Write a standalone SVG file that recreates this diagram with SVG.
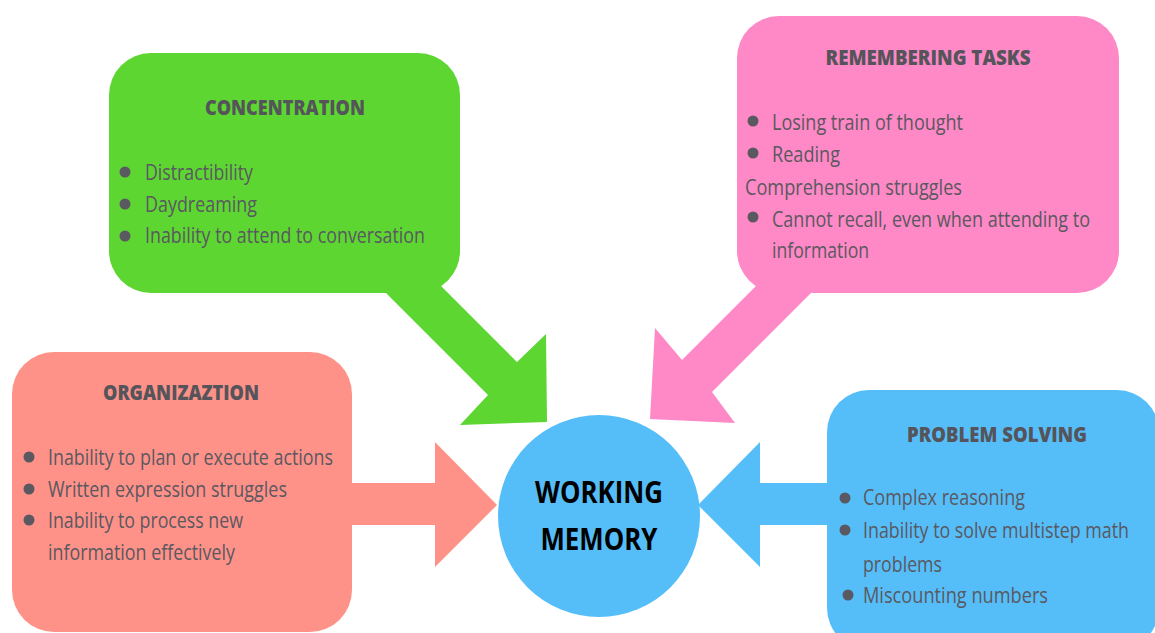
<svg xmlns="http://www.w3.org/2000/svg" width="1155" height="633" viewBox="0 0 1155 633">
<style>
.t{font-family:"Open Sans","Liberation Sans",sans-serif;font-size:21px;fill:#5a5860}
.h{font-family:"Open Sans","Liberation Sans",sans-serif;font-size:21px;font-weight:800;fill:#55545a;text-anchor:middle}
.c{font-family:"Open Sans","Liberation Sans",sans-serif;font-size:31px;font-weight:bold;fill:#000;text-anchor:middle}
.d{fill:#5a5860}
.g{fill:#5dd632}.p{fill:#ff88c6}.s{fill:#ff9288}.b{fill:#55bef9}
</style>
<rect width="1155" height="633" fill="#fff"/>
<g id="connectors">
<polygon class="g" points="358,265 420,265 517,362 546,334 547,422 460,425 488,395"/>
<polygon class="p" points="765,277 827,277 712,392 735,423 650,419 655,328 682,360"/>
<polygon class="s" points="340,483 435,483 435,442 497,505 435,567 435,525 340,525"/>
<polygon class="b" points="840,483 760,483 760,442 698,505 760,567 760,525 840,525"/>
</g>
<g id="concentration">
<rect class="g" x="109" y="53" width="351" height="240" rx="42"/>
<text class="h" x="285" y="115" textLength="160" lengthAdjust="spacingAndGlyphs">CONCENTRATION</text>
<circle class="d" cx="125" cy="172" r="5.5"/><circle class="d" cx="125" cy="204" r="5.5"/><circle class="d" cx="125" cy="236" r="5.5"/>
<text class="t" x="145" y="180" textLength="108" lengthAdjust="spacingAndGlyphs">Distractibility</text>
<text class="t" x="145" y="212" textLength="112" lengthAdjust="spacingAndGlyphs">Daydreaming</text>
<text class="t" x="145" y="243" textLength="280" lengthAdjust="spacingAndGlyphs">Inability to attend to conversation</text>
</g>
<g id="remembering">
<rect class="p" x="737" y="16" width="382" height="277" rx="42"/>
<text class="h" x="928" y="65" textLength="205" lengthAdjust="spacingAndGlyphs">REMEMBERING TASKS</text>
<circle class="d" cx="753" cy="121" r="5.5"/><circle class="d" cx="753" cy="153" r="5.5"/><circle class="d" cx="753" cy="217" r="5.5"/>
<text class="t" x="772" y="130" textLength="191" lengthAdjust="spacingAndGlyphs">Losing train of thought</text>
<text class="t" x="772" y="162" textLength="68" lengthAdjust="spacingAndGlyphs">Reading</text>
<text class="t" x="745" y="195" textLength="217" lengthAdjust="spacingAndGlyphs">Comprehension struggles</text>
<text class="t" x="772" y="227" textLength="318" lengthAdjust="spacingAndGlyphs">Cannot recall, even when attending to</text>
<text class="t" x="772" y="258" textLength="97" lengthAdjust="spacingAndGlyphs">information</text>
</g>
<g id="organization">
<rect class="s" x="12" y="352" width="340" height="280" rx="42"/>
<text class="h" x="181" y="400" textLength="156" lengthAdjust="spacingAndGlyphs">ORGANIZAZTION</text>
<circle class="d" cx="29" cy="457" r="5.5"/><circle class="d" cx="29" cy="489" r="5.5"/><circle class="d" cx="29" cy="520" r="5.5"/>
<text class="t" x="48" y="465" textLength="285" lengthAdjust="spacingAndGlyphs">Inability to plan or execute actions</text>
<text class="t" x="48" y="497" textLength="239" lengthAdjust="spacingAndGlyphs">Written expression struggles</text>
<text class="t" x="48" y="528" textLength="195" lengthAdjust="spacingAndGlyphs">Inability to process new</text>
<text class="t" x="48" y="560" textLength="187" lengthAdjust="spacingAndGlyphs">information effectively</text>
</g>
<g id="problem-solving">
<rect class="b" x="827" y="390" width="332" height="260" rx="42"/>
<text class="h" x="997" y="442" textLength="180" lengthAdjust="spacingAndGlyphs">PROBLEM SOLVING</text>
<circle class="d" cx="845" cy="498" r="5.5"/><circle class="d" cx="845" cy="530" r="5.5"/><circle class="d" cx="848" cy="595" r="5.5"/>
<text class="t" x="863" y="505" textLength="162" lengthAdjust="spacingAndGlyphs">Complex reasoning</text>
<text class="t" x="863" y="538" textLength="266" lengthAdjust="spacingAndGlyphs">Inability to solve multistep math</text>
<text class="t" x="863" y="572" textLength="79" lengthAdjust="spacingAndGlyphs">problems</text>
<text class="t" x="863" y="603" textLength="185" lengthAdjust="spacingAndGlyphs">Miscounting numbers</text>
</g>
<g id="working-memory">
<circle class="b" cx="599" cy="516" r="101"/>
<text class="c" x="599" y="503" textLength="128" lengthAdjust="spacingAndGlyphs">WORKING</text>
<text class="c" x="599" y="550" textLength="117" lengthAdjust="spacingAndGlyphs">MEMORY</text>
</g>
</svg>
